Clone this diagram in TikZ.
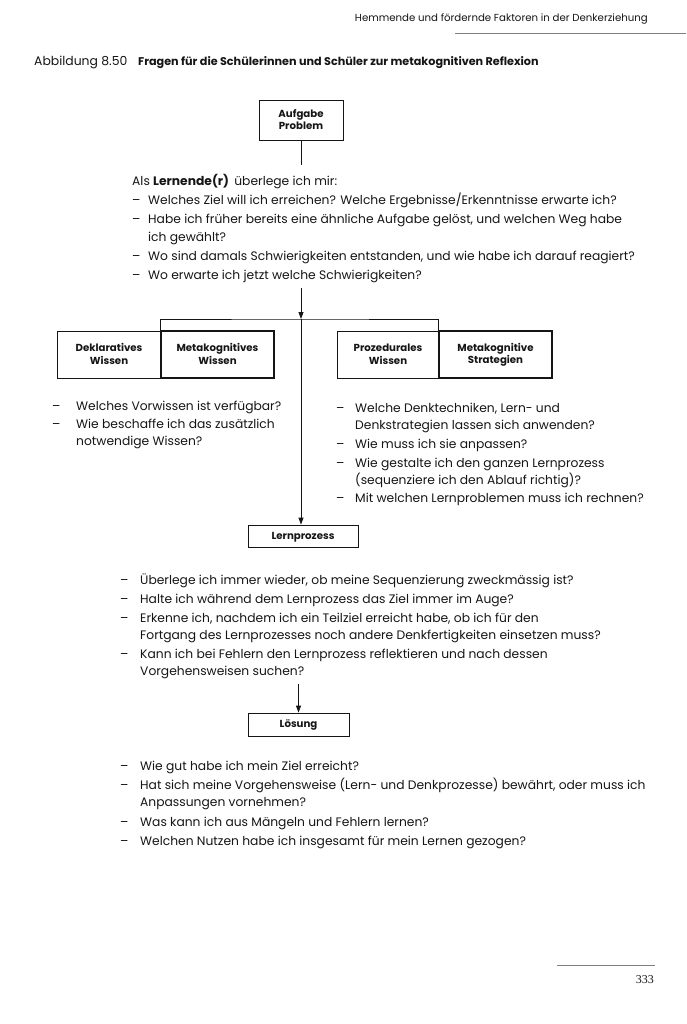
\documentclass[tikz,border=0pt]{standalone}
\usepackage{fontspec}
\setmainfont{Poppins}
\newfontfamily\seriffont{Liberation Serif}
\usetikzlibrary{arrows.meta}
\definecolor{ink}{HTML}{151515}
\newcommand\bxs{\rule[-1.9pt]{0pt}{10.9pt}}
\tikzset{
  txt/.style={anchor=base west, inner sep=0pt, text=ink, font=\fontsize{12.3}{14}\selectfont},
  dsh/.style={anchor=base west, inner sep=0pt, text=ink, font=\fontsize{12.3}{14}\selectfont},
  boxthin/.style={draw=ink, line width=0.8pt, inner sep=0pt, align=center, text=ink, font=\bfseries\fontsize{10.2}{12.5}\selectfont},
  boxthick/.style={boxthin, line width=2pt},
  arr/.style={draw=ink, line width=0.8pt, -{Triangle[length=7pt,width=5pt]}},
  ln/.style={draw=ink, line width=0.8pt}
}
\begin{document}
\begin{tikzpicture}[x=1pt,y=-1pt]
\useasboundingbox (0,0) rectangle (686,1024);
% header
\node[anchor=base east, inner sep=0pt, text=ink, font=\fontsize{10.2}{12}\selectfont] (hdr) at (648,22) {Hemmende und fördernde Faktoren in der Denkerziehung};
\coordinate (hl1) at (455,33); \coordinate (hl2) at (686,33);
\draw[draw=gray, line width=0.8pt] (hl1) -- (hl2);
% title
\node[anchor=base west, inner sep=0pt, text=ink, font=\fontsize{12.4}{14}\selectfont] (abb) at (34,66) {Abbildung 8.50};
\node[anchor=base west, inner sep=0pt, text=ink, font=\bfseries\fontsize{11.2}{14}\selectfont] (ttl) at (138,66) {Fragen für die Schülerinnen und Schüler zur metakognitiven Reflexion};
% top box
\node[boxthin, minimum width=84pt, minimum height=40pt] (aufg) at (301,120) {\bxs Aufgabe\\\bxs Problem};
\coordinate (c1) at (301,165);
\draw[ln] (aufg.south) -- (c1);
% first list
\node[txt] (l0) at (132,186) {Als \textbf{Lernende(r)}\, überlege ich mir:};
\node[dsh] (d1) at (132,205) {–};
\node[txt] (l1) at (148,205) {Welches Ziel will ich erreichen? Welche Ergebnisse/Erkenntnisse erwarte ich?};
\node[dsh] (d2) at (132,224) {–};
\node[txt] (l2) at (148,224) {Habe ich früher bereits eine ähnliche Aufgabe gelöst, und welchen Weg habe};
\node[txt] (l2b) at (148,241) {ich gewählt?};
\node[dsh] (d3) at (132,260) {–};
\node[txt] (l3) at (148,260) {Wo sind damals Schwierigkeiten entstanden, und wie habe ich darauf reagiert?};
\node[dsh] (d4) at (132,279) {–};
\node[txt] (l4) at (148,279) {Wo erwarte ich jetzt welche Schwierigkeiten?};
% boxes row
\node[boxthin, minimum width=104pt, minimum height=47pt] (dw) at (109,354.5) {\bxs Deklaratives\\\bxs Wissen};
\node[boxthick, minimum width=113pt, minimum height=47pt] (mw) at (217.5,354.5) {\bxs Metakognitives\\\bxs Wissen};
\node[boxthin, minimum width=102pt, minimum height=47pt] (pw) at (388,354.5) {\bxs Prozedurales\\\bxs Wissen};
\node[boxthick, minimum width=113pt, minimum height=47pt] (ms) at (495.5,354.5) {\bxs Metakognitive\\\bxs Strategien};
\coordinate (c2) at (301,288);
\coordinate (j) at (301,319);
\draw[arr] (c2) -- (j);
\draw[ln] (mw.north west) |- (j) -| (ms.north west);
% Lernprozess
\node[boxthin, minimum width=110pt, minimum height=22pt] (lern) at (303,536) {\bxs Lernprozess};
\draw[arr] (j) -- (j |- lern.north);
% left list
\node[dsh] (e1) at (52,410) {–};
\node[txt] (m1) at (76,410) {Welches Vorwissen ist verfügbar?};
\node[dsh] (e2) at (52,428) {–};
\node[txt] (m2) at (76,428) {Wie beschaffe ich das zusätzlich};
\node[txt] (m2b) at (76,445) {notwendige Wissen?};
% right list
\node[dsh] (f1) at (336,412) {–};
\node[txt] (r1) at (355,412) {Welche Denktechniken, Lern- und};
\node[txt] (r1b) at (355,429) {Denkstrategien lassen sich anwenden?};
\node[dsh] (f2) at (336,448) {–};
\node[txt] (r2) at (355,448) {Wie muss ich sie anpassen?};
\node[dsh] (f3) at (336,467) {–};
\node[txt] (r3) at (355,467) {Wie gestalte ich den ganzen Lernprozess};
\node[txt] (r3b) at (355,484) {(sequenziere ich den Ablauf richtig)?};
\node[dsh] (f4) at (336,502) {–};
\node[txt] (r4) at (355,502) {Mit welchen Lernproblemen muss ich rechnen?};
% middle list
\node[dsh] (g1) at (120,584) {–};
\node[txt] (p1) at (140,584) {Überlege ich immer wieder, ob meine Sequenzierung zweckmässig ist?};
\node[dsh] (g2) at (120,603) {–};
\node[txt] (p2) at (140,603) {Halte ich während dem Lernprozess das Ziel immer im Auge?};
\node[dsh] (g3) at (120,622) {–};
\node[txt] (p3) at (140,622) {Erkenne ich, nachdem ich ein Teilziel erreicht habe, ob ich für den};
\node[txt] (p3b) at (140,639) {Fortgang des Lernprozesses noch andere Denkfertigkeiten einsetzen muss?};
\node[dsh] (g4) at (120,658) {–};
\node[txt] (p4) at (140,658) {Kann ich bei Fehlern den Lernprozess reflektieren und nach dessen};
\node[txt] (p4b) at (140,675) {Vorgehensweisen suchen?};
% Loesung
\node[boxthin, minimum width=101pt, minimum height=23pt] (loes) at (298.5,724.5) {\bxs Lösung};
\coordinate (c3) at (298.5,684);
\draw[arr] (c3) -- (loes.north);
% bottom list
\node[dsh] (h1) at (120,770) {–};
\node[txt] (q1) at (140,770) {Wie gut habe ich mein Ziel erreicht?};
\node[dsh] (h2) at (120,789) {–};
\node[txt] (q2) at (140,789) {Hat sich meine Vorgehensweise (Lern- und Denkprozesse) bewährt, oder muss ich};
\node[txt] (q2b) at (140,806) {Anpassungen vornehmen?};
\node[dsh] (h3) at (120,826) {–};
\node[txt] (q3) at (140,826) {Was kann ich aus Mängeln und Fehlern lernen?};
\node[dsh] (h4) at (120,845) {–};
\node[txt] (q4) at (140,845) {Welchen Nutzen habe ich insgesamt für mein Lernen gezogen?};
% page number
\coordinate (pl1) at (557,965); \coordinate (pl2) at (655,965);
\draw[draw=gray, line width=0.8pt] (pl1) -- (pl2);
\node[anchor=base east, inner sep=0pt, text=ink, font=\seriffont\fontsize{12}{14}\selectfont] (pg) at (654,983) {333};
\end{tikzpicture}
\end{document}
